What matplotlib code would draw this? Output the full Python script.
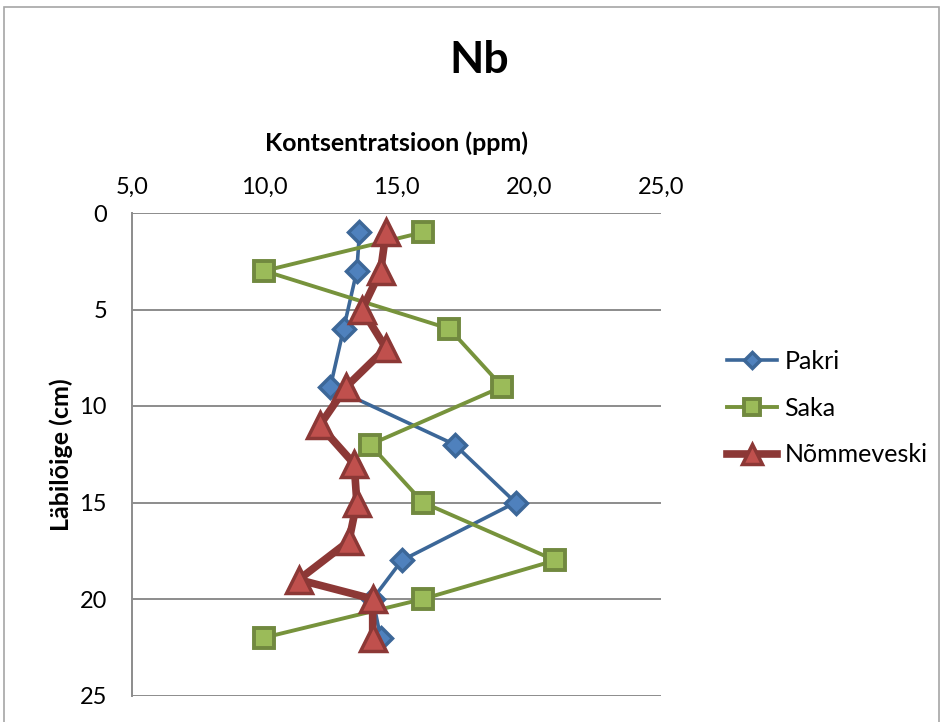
import matplotlib.pyplot as plt
from matplotlib.patches import Rectangle

plt.rcParams['font.family'] = ['Lato', 'DejaVu Sans']

# sample depths (cm) and Nb concentrations (ppm)
depth_ps = [1, 3, 6, 9, 12, 15, 18, 20, 22]
pakri = [13.6, 13.5, 13.0, 12.5, 17.2, 19.5, 15.2, 14.1, 14.4]
saka = [16.0, 10.0, 17.0, 19.0, 14.0, 16.0, 21.0, 16.0, 10.0]
depth_n = [1, 3, 5, 7, 9, 11, 13, 15, 17, 19, 20, 22]
nommeveski = [14.6, 14.4, 13.7, 14.6, 13.1, 12.1, 13.4, 13.5, 13.2, 11.3, 14.1, 14.1]

xticks = [5, 10, 15, 20, 25]
yticks = [0, 5, 10, 15, 20, 25]

fig = plt.figure(figsize=(9.42, 7.22), dpi=100)
ax = fig.add_axes([132/942, 1-695.5/722, (661-132)/942, (695.5-213)/722])

# chart frame
fig.patches.append(Rectangle((4/942, -0.05), 935/942, 1.05 - 7/722, transform=fig.transFigure,
                             fill=False, edgecolor='#a6a6a6', linewidth=1.2))

ax.plot(pakri, depth_ps, color='#3c6798', lw=2.6, marker='D', ms=11,
        mfc='#4f81bd', mec='#3c6798', mew=2.5, label='Pakri', zorder=3)
ax.plot(saka, depth_ps, color='#77933c', lw=2.8, marker='s', ms=15,
        mfc='#9bbb59', mec='#71893f', mew=2.8, label='Saka', zorder=4)
ax.plot(nommeveski, depth_n, color='#8c3836', lw=5.5, marker='^', ms=19,
        mfc='#c0504d', mec='#8c3836', mew=2.5, label='Nõmmeveski', zorder=5)

ax.set_xlim(5, 25)
ax.set_ylim(25, 0)
ax.xaxis.tick_top()
ax.xaxis.set_label_position('top')
ax.set_xticks(xticks)
ax.set_xticklabels([f'{v:.1f}'.replace('.', ',') for v in xticks])
ax.set_yticks(yticks)
ax.tick_params(length=0, labelsize=17)
ax.tick_params(axis='y', pad=18)
ax.tick_params(axis='x', pad=11)

ax.grid(axis='y', color='#8c8c8c', lw=1.4)
ax.set_axisbelow(True)
for s in ['top', 'right', 'bottom']:
    ax.spines[s].set_visible(False)
ax.spines['left'].set_color('#8c8c8c')
ax.spines['left'].set_linewidth(1.4)

ax.set_xlabel('Kontsentratsioon (ppm)', fontsize=18, fontweight='bold', va='center')
ax.xaxis.set_label_coords(0.5, (695.5-143)/482.5)
ax.set_ylabel('Läbilõige (cm)', fontsize=18, fontweight='bold', va='center')
ax.yaxis.set_label_coords((61-132)/529, 0.5)

fig.text(479/942, 1-60/722, 'Nb', fontsize=32, fontweight='bold', ha='center', va='center')

fig.legend(*ax.get_legend_handles_labels(), loc='center left',
           bbox_to_anchor=(727/942, 1-408/722), frameon=False, fontsize=18,
           handlelength=2.0, labelspacing=0.95, handletextpad=0.3,
           borderpad=0, borderaxespad=0, markerscale=0.75)

fig.savefig('out.png', dpi=100)
